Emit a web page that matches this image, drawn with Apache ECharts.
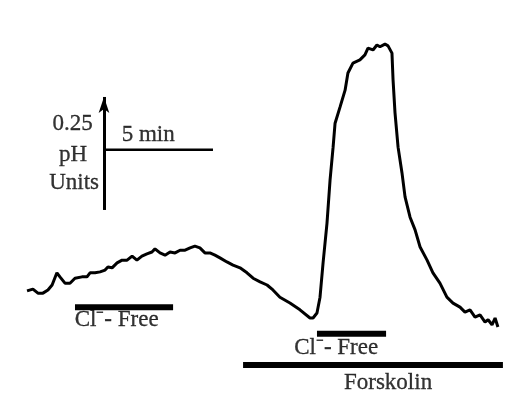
<!DOCTYPE html>
<html>
<head>
<meta charset="utf-8">
<script src="https://cdn.jsdelivr.net/npm/echarts@6/dist/echarts.min.js"></script>
<style>
  html, body { margin: 0; padding: 0; background: #fff; }
  #chart { width: 531px; height: 398px; }
</style>
</head>
<body>
<div id="chart"></div>
<script>
// time in minutes, pH in units (relative)
const traceTime = [1.24, 1.51, 1.74, 1.97, 2.20, 2.39, 2.61, 2.75, 2.98, 3.21, 3.44, 3.76, 3.99, 4.13, 4.36, 4.59,
    4.82, 4.95, 5.14, 5.37, 5.60, 5.83, 6.06, 6.28, 6.51, 6.74, 6.97, 7.11, 7.34, 7.57, 7.80, 8.03, 8.26, 8.49,
    8.72, 8.94, 9.17, 9.40, 9.63, 9.86, 10.09, 10.41, 10.69, 11.01, 11.33, 11.61, 11.93, 12.25, 12.52, 12.84,
    13.30, 13.76, 14.22, 14.36, 14.54, 14.68, 14.82, 15.00, 15.14, 15.28, 15.37, 15.60, 15.83, 15.96, 16.19,
    16.51, 16.74, 16.88, 17.11, 17.29, 17.43, 17.66, 17.80, 17.98, 18.03, 18.12, 18.26, 18.44, 18.58, 18.81,
    19.04, 19.27, 19.59, 19.86, 20.18, 20.50, 20.78, 21.10, 21.33, 21.56, 21.79, 22.02, 22.25, 22.39, 22.57,
    22.71, 22.84];
const tracePH = [0.237, 0.241, 0.232, 0.232, 0.239, 0.250, 0.277, 0.268, 0.254, 0.254, 0.265, 0.268, 0.268, 0.277,
    0.277, 0.279, 0.283, 0.290, 0.288, 0.299, 0.305, 0.305, 0.314, 0.305, 0.314, 0.319, 0.323, 0.330, 0.321,
    0.316, 0.323, 0.321, 0.327, 0.327, 0.332, 0.336, 0.332, 0.321, 0.321, 0.316, 0.310, 0.301, 0.294, 0.288,
    0.277, 0.265, 0.257, 0.250, 0.239, 0.223, 0.210, 0.195, 0.177, 0.177, 0.188, 0.223, 0.299, 0.387, 0.482,
    0.555, 0.608, 0.644, 0.681, 0.719, 0.741, 0.748, 0.759, 0.774, 0.770, 0.781, 0.777, 0.783, 0.779, 0.763,
    0.704, 0.631, 0.555, 0.498, 0.445, 0.400, 0.372, 0.334, 0.305, 0.277, 0.254, 0.223, 0.210, 0.201, 0.190,
    0.195, 0.179, 0.184, 0.168, 0.173, 0.162, 0.177, 0.157];

// treatment bars: [start, end, level]
const clFree1 = [3.44, 7.94, 0.201];
const clFree2 = [14.54, 17.71, 0.142];
const forskolin = [11.15, 23.07, 0.073];

// scale bars
const scaleOrigin = [4.77, 0.416];
const scalePH = 0.25;
const scaleMin = 5;
const scaleHLevel = 0.549;

const labels = [
    { name: '0.25', value: [3.33, 0.606] },
    { name: 'pH', value: [3.35, 0.538] },
    { name: 'Units', value: [3.40, 0.476] },
    { name: '5 min', value: [6.80, 0.582] },
    { name: 'Cl\u207B- Free', value: [5.35, 0.172] },
    { name: 'Cl\u207B- Free', value: [15.42, 0.110] },
    { name: 'Forskolin', value: [17.80, 0.034] }
];

const chart = echarts.init(document.getElementById('chart'));

const barSeries = (b, w) => ({
    type: 'line',
    data: [[b[0], b[2]], [b[1], b[2]]],
    symbol: 'none',
    lineStyle: { color: '#000', width: w, cap: 'butt' },
    silent: true
});

chart.setOption({
    animation: false,
    backgroundColor: '#fff',
    grid: { left: 0, right: 0, top: 0, bottom: 0 },
    xAxis: { type: 'value', min: 0, max: 531 / 21.8, show: false },
    yAxis: { type: 'value', min: 0, max: 398 / 452, show: false },
    series: [
        {
            type: 'line',
            data: traceTime.map((t, i) => [t, tracePH[i]]),
            symbol: 'none',
            lineStyle: { color: '#000', width: 3 }
        },
        barSeries(clFree1, 6),
        barSeries(clFree2, 6),
        barSeries(forskolin, 6),
        {
            type: 'line',
            data: [[scaleOrigin[0], scaleHLevel], [scaleOrigin[0] + scaleMin, scaleHLevel]],
            symbol: 'none',
            lineStyle: { color: '#000', width: 2.5 },
            markLine: {
                silent: true,
                symbol: ['none', 'arrow'],
                symbolSize: [8, 16],
                label: { show: false },
                lineStyle: { color: '#000', width: 3, type: 'solid' },
                data: [[
                    { coord: [scaleOrigin[0], scaleOrigin[1]] },
                    { coord: [scaleOrigin[0], scaleOrigin[1] + scalePH] }
                ]]
            }
        },
        {
            type: 'scatter',
            data: labels,
            symbolSize: 0,
            label: {
                show: true,
                position: 'inside',
                formatter: '{b}',
                color: '#000',
                fontFamily: '"Liberation Serif", "Times New Roman", Times, serif',
                fontSize: 23,
                textBorderColor: '#000',
                textBorderWidth: 0.3
            }
        }
    ]
});
</script>
</body>
</html>
